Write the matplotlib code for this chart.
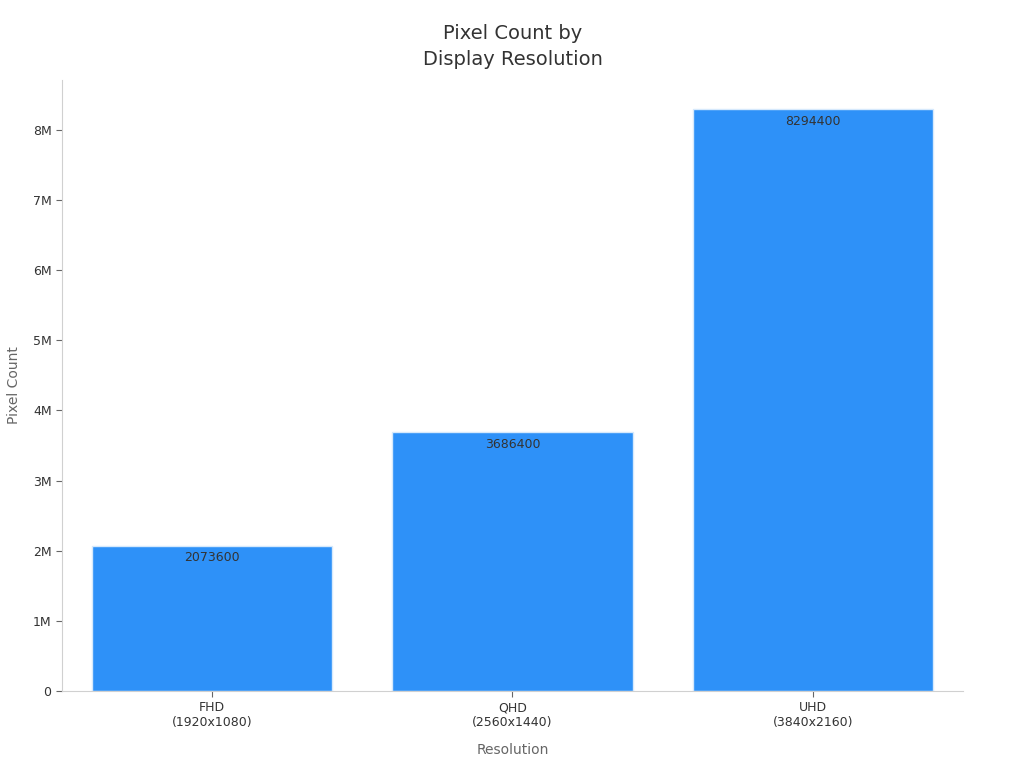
import matplotlib
matplotlib.use("Agg")

import matplotlib.pyplot as plt
from matplotlib.ticker import FuncFormatter

resolutions = ["FHD\n(1920x1080)", "QHD\n(2560x1440)", "UHD\n(3840x2160)"]
pixel_counts = [2073600, 3686400, 8294400]


def fmt_millions(v, pos):
    if v == 0:
        return "0"
    return f"{v / 1e6:g}M"


fig = plt.figure(figsize=(10.24, 7.68), dpi=100)
ax = fig.add_axes([0.0605, 0.1003, 0.8799, 0.7955])

x = range(len(resolutions))
bars = ax.bar(x, pixel_counts, width=0.8, color="#2e91f8", edgecolor="#d6e9fc", linewidth=1)

for b, v in zip(bars, pixel_counts):
    ax.annotate(str(v), (b.get_x() + b.get_width() / 2, v), xytext=(0, -4),
                textcoords="offset points", ha="center", va="top",
                fontsize=9, color="#333333")

ax.set_xlim(-0.5, len(resolutions) - 0.5)
ax.set_ylim(0, max(pixel_counts) * 1.05)
ax.set_xticks(list(x))
ax.set_xticklabels(resolutions, fontsize=9, color="#333333")
ax.set_yticks([i * 1e6 for i in range(9)])
ax.yaxis.set_major_formatter(FuncFormatter(fmt_millions))
ax.tick_params(axis="y", labelsize=9, labelcolor="#333333", color="#666666", length=4)
ax.tick_params(axis="x", color="#666666", length=4)

for side in ["top", "right"]:
    ax.spines[side].set_visible(False)
for side in ["left", "bottom"]:
    ax.spines[side].set_color("#d0d0d0")

ax.set_xlabel("Resolution", fontsize=10, color="#666666", labelpad=10)
ax.set_ylabel("Pixel Count", fontsize=10, color="#666666")
ax.yaxis.set_label_coords(-0.045, 0.5)
ax.set_title("Pixel Count by\nDisplay Resolution", fontsize=14, color="#333333",
             pad=11, linespacing=1.45)

fig.savefig("out.png", dpi=100)
plt.close(fig)
